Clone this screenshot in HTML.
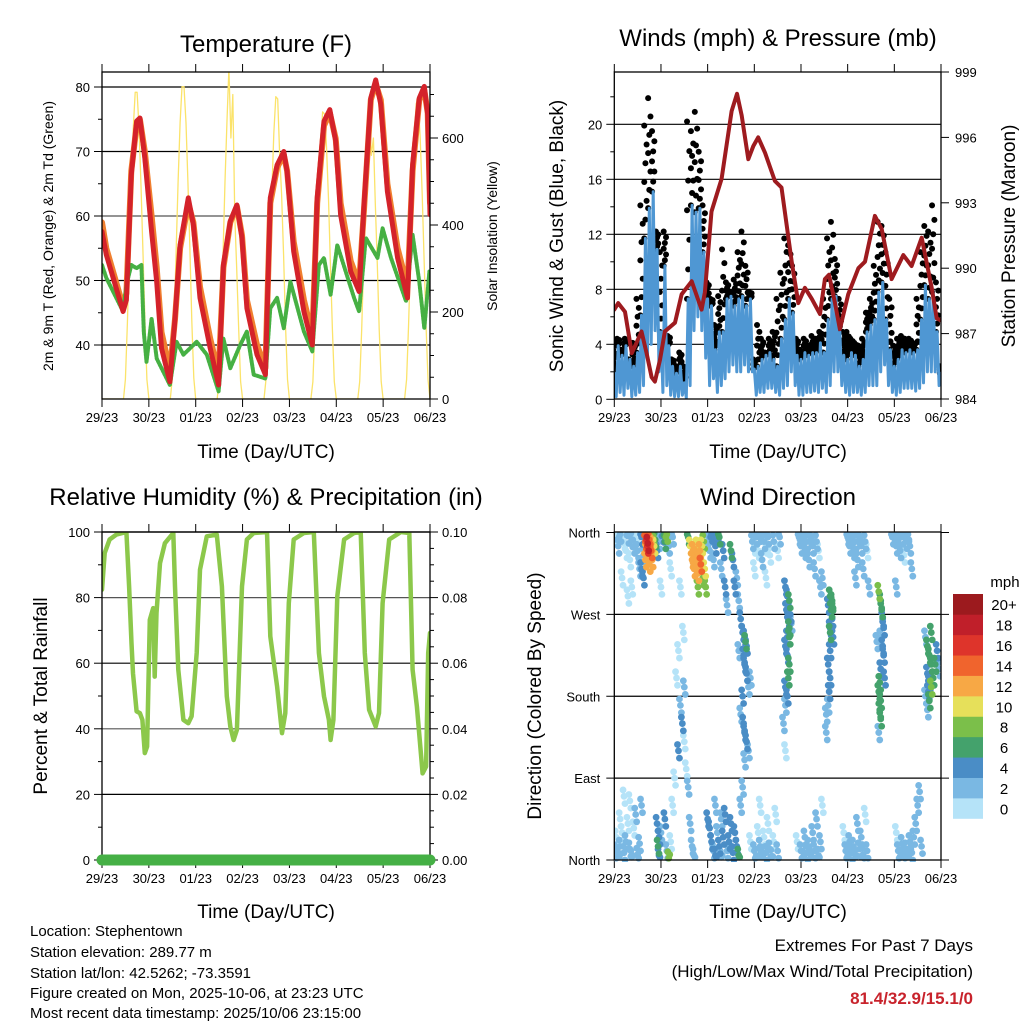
<!DOCTYPE html>
<html><head><meta charset="utf-8">
<style>
html,body{margin:0;padding:0;background:#fff;}
svg{display:block;font-family:"Liberation Sans",sans-serif;}
</style></head>
<body>
<svg id="fig" width="1024" height="1024" viewBox="0 0 1024 1024" xmlns="http://www.w3.org/2000/svg">
<defs>
<clipPath id="c1"><rect x="102" y="72" width="328" height="327"/></clipPath>
<clipPath id="c2"><rect x="614" y="72" width="327" height="327"/></clipPath>
<clipPath id="c3"><rect x="102" y="532" width="328" height="328"/></clipPath>
<clipPath id="c4"><rect x="614" y="532" width="327" height="330"/></clipPath>
</defs>
<g id="root"></g>
<text x="266" y="52" font-size="24" text-anchor="middle">Temperature (F)</text>
<text x="778" y="46" font-size="24" text-anchor="middle">Winds (mph) &amp; Pressure (mb)</text>
<text x="266" y="505" font-size="24" text-anchor="middle">Relative Humidity (%) &amp; Precipitation (in)</text>
<text x="778" y="505" font-size="24" text-anchor="middle">Wind Direction</text>
<text x="266" y="458" font-size="19" text-anchor="middle">Time (Day/UTC)</text>
<text x="778" y="458" font-size="19" text-anchor="middle">Time (Day/UTC)</text>
<text x="266" y="918" font-size="19" text-anchor="middle">Time (Day/UTC)</text>
<text x="778" y="918" font-size="19" text-anchor="middle">Time (Day/UTC)</text>
<text transform="translate(53,236) rotate(-90)" font-size="14" text-anchor="middle">2m &amp; 9m T (Red, Orange) &amp; 2m Td (Green)</text>
<text transform="translate(497,236) rotate(-90)" font-size="14" text-anchor="middle">Solar Insolation (Yellow)</text>
<text transform="translate(563,236) rotate(-90)" font-size="19" text-anchor="middle">Sonic Wind &amp; Gust (Blue, Black)</text>
<text transform="translate(1015,236) rotate(-90)" font-size="19" text-anchor="middle">Station Pressure (Maroon)</text>
<text transform="translate(47,696) rotate(-90)" font-size="19" text-anchor="middle">Percent &amp; Total Rainfall</text>
<text transform="translate(541,696) rotate(-90)" font-size="19" text-anchor="middle">Direction (Colored By Speed)</text>
<g font-size="15">
<text x="30" y="936">Location: Stephentown</text>
<text x="30" y="957">Station elevation: 289.77 m</text>
<text x="30" y="978">Station lat/lon: 42.5262; -73.3591</text>
<text x="30" y="998">Figure created on Mon, 2025-10-06, at 23:23 UTC</text>
<text x="30" y="1018">Most recent data timestamp: 2025/10/06 23:15:00</text>
</g>
<text x="973" y="951" font-size="17" text-anchor="end">Extremes For Past 7 Days</text>
<text x="973" y="977" font-size="17" text-anchor="end">(High/Low/Max Wind/Total Precipitation)</text>
<text x="973" y="1004" font-size="17" font-weight="bold" fill="#c8232c" text-anchor="end">81.4/32.9/15.1/0</text>
</svg>
<script>
const dayLabels=["29/23","30/23","01/23","02/23","03/23","04/23","05/23","06/23"];
const tempTicks=[40,50,60,70,80];
const solarTicks=[0,200,400,600];
const windTicks=[0,4,8,12,16,20];
const pressTicks=[984,987,990,993,996,999];
const rhTicks=[0,20,40,60,80,100];
const rainTicks=["0.00","0.02","0.04","0.06","0.08","0.10"];
const dirLabels=["North","East","South","West","North"];
const speedBins=["0","2","4","6","8","10","12","14","16","18","20+"];
const speedColors=["#b5e3f8","#7ab8e3","#4a8dc6","#44a26c","#7bbf4a","#e6e05a","#f7a845","#f0642d","#de342b","#c01f2a","#9c1a1e"];

const tempT=[0,2.2,10.8,12.5,15,17.7,19.4,21.9,25.4,28,30.5,34.8,37.4,40,44.2,46.8,50.2,55.4,59.7,62.2,65.7,69.1,71.7,74.2,79.4,83.7,86.2,89.7,93.1,94.8,98.2,103.4,107.7,110.2,113.7,116.7,119.7,122.2,127.4,131.7,134.2,137.7,140.2,142.8,146.2,151.4,156.5,159.1,162.5,165.1,166.8,168];
const redV=[57.6,54,45.2,47,66.4,74.7,75.2,69,57.6,49.8,39.5,34.3,44.1,55.5,62.8,58.6,47.3,39.5,33.8,52.4,59.2,61.7,56.6,45.7,38.5,35.4,62.8,67.9,70,66.9,54.5,45.2,40,62.8,74.7,76.5,71.6,60.2,51.4,48.3,61.7,78.3,81.1,77.3,63.8,53.5,47.3,67.9,78.3,80.1,75.7,60.2];
const orangeV=[59,55,46,48,67,74,75,70,60,52,42,36,44,55,62,59,49,41,35.5,52,59,61.5,57,47,40,36.5,62,67.5,69.5,67,56,47,41.5,62,74,76,72,62,53,49.5,61,78,80.5,78,65,55,49,67,78,79.5,76,62];
const dewT=[0,2.2,10.8,12.5,15,17.7,20.2,21.4,22.8,25.4,28,34.8,38.2,41.7,48.5,53.7,59.7,62.2,65.7,70.8,74.2,77.7,83.7,86.2,89.7,93.1,96.5,103.4,107.7,111.1,113.7,117.1,120.5,129.1,131.7,135.1,141.1,143.7,148,155.7,159.1,162.5,165.1,167.7];
const dewV=[52.4,50.4,45.2,49.3,52.4,51.9,52.4,42,37.4,44.1,37.9,33.8,40.5,38.5,40.5,38.5,32.8,41,36.4,40,42.1,35.4,34.8,45.7,47.3,42.6,49.8,42.1,39,52.4,53.5,47.8,55.5,47.3,45.2,56.6,53.5,58.1,53.5,46.8,57.1,49.8,42.6,51.4];
const solarStart=[11,35,59,83,107,131,155];
const solarDays=[
[0,45,175,335,490,620,705,705,620,490,335,175,45,0],
[0,48,180,345,500,635,718,718,635,500,345,180,48,0],
[0,45,170,330,500,640,760,600,700,420,300,160,40,0],
[0,45,170,330,480,610,695,690,560,470,330,170,45,0],
[0,40,160,310,460,580,660,655,580,460,310,160,40,0],
[0,40,160,310,450,570,650,560,600,450,310,160,40,0],
[0,45,165,320,470,600,680,680,600,470,320,165,45,0]];

const windT=[0,2,4,6,8,10,12,14,16,18,20,22,24,26,28,30,32,34,36,38,40,42,44,46,48,50,52,54,56,58,60,62,64,66,68,70,72,74,76,78,80,82,84,86,88,90,92,94,96,98,100,102,104,106,108,110,112,114,116,118,120,122,124,126,128,130,132,134,136,138,140,142,144,146,148,150,152,154,156,158,160,162,164,166,168];
const windHi=[1.9,3.9,3.2,3.9,2.9,2.4,3.4,6.1,11.7,13.9,15.1,10.9,4.9,9.7,3.9,2.4,1.9,2.4,1.2,7.3,14.1,13.6,13.9,10.7,7.3,6.8,3.6,4.9,4.9,7.3,7.5,6.8,7.3,7.5,6.8,7.3,2.2,2.4,2.9,3.2,3.4,2.9,2.4,4.4,5.8,7.3,6.3,3.2,2.9,3.4,3.2,3.4,3.4,4.1,3.4,5.8,7.3,7.5,4.9,3.2,2.9,3.4,3.2,2.4,2.9,4.9,5.4,5.8,7.8,8.5,5.8,3.6,2.4,2.9,3.6,3.4,3.6,3.4,3.6,5.8,8.3,7.3,7.8,4.9,1.9];
const windLo=[0.2,0.5,0.3,0.8,0.2,0.3,0.5,1,3,4,5,2,0.5,1,0.3,0.2,0.2,0.3,0.1,1,5,6,5,3,1,1.5,0.5,1,1.5,2,2.5,2,2,2.5,2,2,0.3,0.5,0.5,0.8,0.8,0.5,0.3,0.8,1,2,1,0.3,0.3,0.5,0.5,0.6,0.5,0.8,0.5,1,2,2,1,0.5,0.3,0.5,0.5,0.3,0.5,1,1,1,2,2.5,1,0.5,0.3,0.5,0.8,0.8,0.8,0.6,0.8,1.2,2,2,2,1,0.2];
const gustV=[3.6,4.4,3.6,4.4,2.4,4.1,7.3,14.1,19.9,21.9,19.5,12.2,10.7,12.2,4.6,2.9,2.4,3.4,2.4,20.2,19.5,20.9,18,14.1,8.5,7.3,5.4,7.5,10.9,8.5,7.8,8.7,10.7,12.2,9.7,7.8,2.9,5.4,4.4,3.4,4.4,4.9,7.3,9.2,11.7,11.2,9.7,4.4,3.6,4.4,3.9,4.6,4.4,4.9,7.3,11.7,12.9,10.2,7.3,4.9,4.9,4.4,4.1,3.9,4.4,6.3,7.3,9.7,12.9,12.6,10.7,7.3,3.9,4.4,4.6,4.4,4.4,4.1,7.3,10.7,12.6,12.2,14.1,8.5,2.4];
const pressT=[0,2,5.5,9,11.5,14,16.6,19.2,20.9,23.5,26,31.2,34.6,39.8,44.9,46.6,50,55.2,60.3,63.1,65.5,68.9,71.5,74,77.5,82.6,86,91.2,94.6,98,101.5,105.8,108.3,110.4,113.5,116,120.3,125.5,128.9,134,137.5,142.6,148.6,152.9,158.1,163.2,165.8,168];
const pressV=[988.1,988.4,988,986.1,986.6,987.1,986.1,985,984.8,985.8,987.1,987.5,988.8,989.4,988.1,988.9,992.6,994.1,997.2,998,997,995,995.6,996,995.3,994,993.7,990.3,988.4,989.1,988.6,987.9,989.5,989.7,988.4,987.2,988.8,990,990.3,992.4,991.8,989.5,990.6,990.1,991.4,989.1,987.7,987.6];

const rhT=[0,1.4,3.9,7.4,12.5,13.9,15.1,15.9,17.7,19.4,20.7,21.9,23.1,24.5,26.2,27,27.9,29.7,32.2,36.5,37.4,39.1,41.7,44.2,45.9,48.5,50.2,53.7,58.8,61.4,63.9,65.7,67.4,69.1,71.7,74.2,77.7,84.5,86.2,89.7,92.2,93.9,95.7,98.2,103.4,108.5,111.1,113.7,116.2,117.1,118.5,120.5,124,129.1,132.5,134.6,136.8,140.2,141.9,143.7,147.1,153.1,157.4,159.1,161.3,164.2,166,167.1,168];
const rhV=[82.4,93.6,97.7,99.2,100,83.4,66.1,56.9,45.3,44.8,42.7,32.6,34.6,73.2,76.8,55.9,75.3,90.5,96.6,99.7,83.4,58,42.7,41.7,43.8,63.1,88.5,98.7,99.2,83.4,49.9,40.7,36.6,39.7,83.4,97.7,99.7,100,68.2,52.9,38.7,44.8,78.3,97.7,99.7,100,63.1,49.9,42.7,36.6,42.7,80.4,97.7,99.7,100,63.1,45.8,40.7,44.8,78.3,97.7,100,99.7,58,46.8,26.4,28.5,63.1,69.2];
const rainT=[0,168];
const rainV=[0,0];

const dirObs=[[1,355,1],[2,345,3],[3,358,2],[5,350,1],[6,340,1],[7,356,2],[8,330,1],[9,352,3],[10,345,2],[11,359,1],[12,340,3],[13,320,2],[14,355,4],[15,335,3],[4,310,1],[9,300,1],[7,290,1],[14,320,4],[15,310,4],
[16,350,14],[16.5,340,12],[17,345,16],[17.5,335,13],[18,352,15],[18.5,342,12],[19,348,13],[19.5,330,12],[16,330,12],[17,355,12],[18,325,12],[19,340,14],[17.2,348,18],[20,356,8],[20.5,345,10],[21,352,7],[22,340,5],[23,350,3],[24,300,1],[25,357,4],[26,350,7],[27,358,8],[28,345,2],[29,320,1],[30,355,2],
[38,355,6],[39,345,10],[40,330,12],[40.5,340,13],[41,320,12],[41.5,335,12],[42,325,12],[42.5,345,11],[43,315,12],[43.5,330,13],[44,340,12],[44.5,325,14],[45,345,11],[45.5,310,9],[46,350,8],[46.5,320,10],[47,300,8],[43,300,9],[48,350,3],[49,340,2],[50,358,4],[51,330,2],[52,345,4],[53,359,5],[54,355,7],[55,320,2],[56,340,5],[57,300,4],[58,280,2],
[60,340,7],[61,330,4],[62,300,4],[63,310,3],[64,285,3],[65,265,4],[66,250,4],[67,245,5],[67.5,240,6],[68,235,4],[66.5,225,4],[67,215,5],[68,205,4],[69,190,3],[66,180,4],[65,160,3],[66.5,150,4],[67,140,5],[68,130,4],[69,120,3],[67,110,2],[64,230,2],[70,200,3],
[71,350,2],[72,345,1],[73,355,3],[74,340,1],[75,358,2],[76,330,2],[77,350,3],[78,345,1],[79,355,2],[80,335,1],[82,350,2],[84,340,1],[85,355,2],[72,320,1],[78,310,1],
[88,300,4],[89,290,5],[90,285,6],[88.5,275,4],[89.5,265,5],[90,255,6],[89,245,5],[88,235,4],[89,225,4],[90,215,6],[89.5,200,7],[88,190,5],[89,180,4],[88,170,3],[87,150,2],[88,120,1],[90,245,7],[90.5,270,5],[91,260,3],
[95,355,2],[96,345,3],[97,358,2],[98,340,2],[99,350,3],[100,330,2],[101,355,2],[102,345,3],[103,320,2],[104,350,2],[105,340,1],[106,300,3],[107,310,2],
[110,280,5],[111,290,6],[112,285,7],[111.5,275,6],[112,265,5],[111,255,4],[112.5,245,5],[111,230,4],[110,215,4],[111,200,4],[110.5,185,4],[110,170,3],[109,160,2],[111,250,7],[112,282,7],[109,140,2],
[120,355,2],[121,345,3],[122,358,2],[123,340,2],[124,350,3],[125,330,2],[126,355,2],[127,345,2],[128,320,3],[129,350,2],[130,340,1],[131,300,2],[124,310,2],
[136,295,8],[137,285,7],[137.5,275,6],[138,265,4],[138.5,255,4],[137,245,3],[138,235,4],[138.5,225,4],[137,210,4],[136.5,195,6],[136,185,7],[137,175,6],[136.5,165,6],[137,155,7],[136,140,3],[139,200,4],[135,240,2],
[143,355,2],[144,358,3],[145,345,2],[146,352,2],[147,340,3],[148,355,2],[149,335,1],[150,350,2],[151,358,2],[152,345,3],[153,320,2],[145,300,2],
[160,245,3],[161,235,6],[162,225,7],[163,215,6],[161,205,5],[162,195,4],[161.5,185,4],[160,180,3],[162,175,6],[163,190,8],[164,200,7],[165,215,6],[166,230,4],[167,210,3],[161,165,2],[163,250,6],
[0.5,10,2],[1,25,1],[2,5,3],[3,15,2],[4,30,1],[5,8,3],[6,20,2],[7,40,1],[8,12,3],[9,3,2],[10,35,1],[11,50,2],[12,6,3],[13,18,2],[14,60,2],[3,45,1],[5,70,1],[8,65,1],
[22,40,4],[23,25,4],[22.5,15,6],[23,5,4],[24,30,2],[26,45,4],[27,10,3],[28,2,8],[29,20,1],[30,60,1],[31,90,1],
[32,200,1],[33,230,1],[34,170,2],[35,150,4],[35.5,250,1],[36,130,1],[37,100,1],[34,300,1],[33,120,4],[36,190,2],[38,80,2],[39,40,2],[40,15,2],[41,5,3],
[48,45,4],[49,35,4],[50,20,4],[51,10,3],[52,5,4],[53,30,3],[54,15,4],[55,3,3],[56,25,4],[57,50,4],[58,10,3],[59,20,5],[60,40,4],[61,8,4],[62,30,5],[63,15,4],[64,5,6],[65,60,3],[66,80,3],[52,60,3],[55,45,2],
[70,20,1],[72,10,2],[73,5,2],[74,30,1],[75,15,2],[76,3,2],[77,25,1],[78,8,2],[79,40,1],[80,12,2],[81,4,2],[82,20,1],[83,50,1],[84,10,2],[75,60,1],
[94,20,1],[96,10,2],[97,3,2],[98,25,3],[99,8,2],[100,15,3],[101,4,2],[102,30,2],[103,10,3],[104,45,3],[105,5,2],[106,20,2],[107,60,1],
[118,30,1],[119,10,2],[120,5,2],[121,20,3],[122,8,2],[123,15,3],[124,3,2],[125,40,2],[126,12,3],[127,25,2],[128,6,2],[129,50,1],[130,10,2],
[145,30,1],[146,10,2],[147,4,2],[148,18,2],[149,6,2],[150,12,2],[151,3,2],[152,20,3],[153,8,2],[154,25,2],[155,40,3],[156,60,3],[157,75,2],[158,15,2]];

const NS="http://www.w3.org/2000/svg";
const root=document.getElementById('root');
function mk(tag,attrs,parent){const e=document.createElementNS(NS,tag);for(const k in attrs)e.setAttribute(k,attrs[k]);(parent||root).appendChild(e);return e;}
const P1={l:102,r:430,t:72,b:399}, P2={l:614.3,r:941,t:72,b:399}, P3={l:102,r:430,t:532,b:860}, P4={l:614.3,r:941,t:532,b:860};
const xAt=(P,t)=>P.l+t/168*(P.r-P.l);
const yTemp=v=>345-(v-40)*6.45;
const ySolar=v=>399-v*0.435;
const yWind=v=>399.3-v*13.75;
const yPress=v=>399-(v-984)*21.8;
const yRH=v=>860-v*3.28;
const yRain=v=>860-v*3280;
const yDir=d=>860-d/360*327.5;

function frame(P){
  for(let i=0;i<dayLabels.length;i++){
    const x=xAt(P,i*24);
    mk('line',{x1:x,x2:x,y1:P.b,y2:P.b+8,stroke:'#000','stroke-width':1});
    mk('line',{x1:x,x2:x,y1:P.t,y2:P.t-8,stroke:'#000','stroke-width':1});
    const tx=mk('text',{x:x,y:P.b+23,'font-size':13,'text-anchor':'middle'});
    tx.textContent=dayLabels[i];
    
    
  }
}
function border(P,name){
  const r=mk('rect',{x:P.l,y:P.t,width:P.r-P.l,height:P.b-P.t,fill:'none',stroke:'#000','stroke-width':1.3});
  
  
}
function hgrid(P,y,color){
  mk('line',{x1:P.l,x2:P.r,y1:y,y2:y,stroke:color||'#000','stroke-width':1.2});
}
function yLabel(x,y,txt,anchor,size){
  const t=mk('text',{x:x,y:y+5,'font-size':size||13,'text-anchor':anchor});
  t.textContent=txt;
  
  
}
function poly(pts,attrs,name,clip){
  const a={points:pts.map(p=>p[0].toFixed(1)+','+p[1].toFixed(1)).join(' '),fill:'none','stroke-linejoin':'round','stroke-linecap':'round'};
  if(clip)a['clip-path']='url(#'+clip+')';
  const p=mk('polyline',Object.assign(a,attrs));
  
  
  return p;
}

/* ---------- Panel 1 ---------- */
frame(P1);
tempTicks.forEach(v=>{const y=yTemp(v);hgrid(P1,y,(v==60)?'#555':'#000');mk('line',{x1:P1.l-8,x2:P1.l,y1:y,y2:y,stroke:'#000'});yLabel(P1.l-12,y,String(v),'end',13);});
[45,55,65,75].forEach(v=>mk('line',{x1:P1.l-4,x2:P1.l,y1:yTemp(v),y2:yTemp(v),stroke:'#000'}));
solarTicks.forEach(v=>{const y=ySolar(v);mk('line',{x1:P1.r,x2:P1.r+8,y1:y,y2:y,stroke:'#000'});yLabel(P1.r+12,y,String(v),'start',13);});
[50,100,150,250,300,350,450,500,550,650,700].forEach(v=>mk('line',{x1:P1.r,x2:P1.r+4,y1:ySolar(v),y2:ySolar(v),stroke:'#000'}));
const sp=[[xAt(P1,0),ySolar(0)]];
solarDays.forEach((d,i)=>d.forEach((v,j)=>sp.push([xAt(P1,solarStart[i]+j),ySolar(v)])));
sp.push([xAt(P1,168),ySolar(0)]);
poly(sp,{stroke:'#fbe36a','stroke-width':1.3},'solar-insolation-line','c1');
poly(tempT.map((t,i)=>[xAt(P1,t),yTemp(orangeV[i])]),{stroke:'#f07f2f','stroke-width':6},'temp-9m-line','c1');
poly(dewT.map((t,i)=>[xAt(P1,t),yTemp(dewV[i])]),{stroke:'#46b043','stroke-width':4,'stroke-dasharray':'2 1.5'},'dewpoint-line','c1');
poly(tempT.map((t,i)=>[xAt(P1,t),yTemp(redV[i])]),{stroke:'#d4222a','stroke-width':5},'temp-2m-line','c1');
border(P1,'temperature-plot-frame');

/* ---------- Panel 2 ---------- */
frame(P2);
windTicks.forEach(v=>{const y=yWind(v);if(v>0)hgrid(P2,y);mk('line',{x1:P2.l-8,x2:P2.l,y1:y,y2:y,stroke:'#000'});yLabel(P2.l-12,y,String(v),'end',13);});
[2,6,10,14,18,22].forEach(v=>mk('line',{x1:P2.l-4,x2:P2.l,y1:yWind(v),y2:yWind(v),stroke:'#000'}));
pressTicks.forEach(v=>{const y=yPress(v);mk('line',{x1:P2.r,x2:P2.r+8,y1:y,y2:y,stroke:'#000'});yLabel(P2.r+14,y,String(v),'start',13);});
const gG=mk('g',{'clip-path':'url(#c2)'});


windT.forEach((t,i)=>{
  const hi=windHi[i],g=gustV[i];
  for(let k=0;k<=6;k++){
    const v=hi+(g-hi)*k/6;
    mk('circle',{cx:xAt(P2,t+((k%3)-1)*0.6),cy:yWind(v),r:3,fill:'#000'},gG);
  }
});
const bp=[];
windT.forEach((t,i)=>{bp.push([xAt(P2,t),yWind(windHi[i])]);bp.push([xAt(P2,t+1),yWind(windLo[i])]);});
poly(bp,{stroke:'#4f97d3','stroke-width':3},'sonic-wind-line','c2');
poly(pressT.map((t,i)=>[xAt(P2,t),yPress(pressV[i])]),{stroke:'#9e1b1f','stroke-width':4},'pressure-line','c2');
border(P2,'winds-plot-frame');

/* ---------- Panel 3 ---------- */
frame(P3);
rhTicks.forEach((v,i)=>{const y=yRH(v);hgrid(P3,y,(v==40||v==80)?'#555':'#000');mk('line',{x1:P3.l-8,x2:P3.l,y1:y,y2:y,stroke:'#000'});yLabel(P3.l-12,y,String(v),'end',13);
  mk('line',{x1:P3.r,x2:P3.r+8,y1:y,y2:y,stroke:'#000'});yLabel(P3.r+12,y,rainTicks[i],'start',13);});
[10,30,50,70,90].forEach(v=>mk('line',{x1:P3.l-4,x2:P3.l,y1:yRH(v),y2:yRH(v),stroke:'#000'}));
for(let v=5;v<100;v+=5){if(v%20)mk('line',{x1:P3.r,x2:P3.r+4,y1:yRH(v),y2:yRH(v),stroke:'#000'});}
poly(rhT.map((t,i)=>[xAt(P3,t),yRH(rhV[i])]),{stroke:'#8cc84b','stroke-width':4.5},'humidity-line','c3');
border(P3,'humidity-plot-frame');
poly(rainT.map((t,i)=>[xAt(P3,t),yRain(rainV[i])]),{stroke:'#45b045','stroke-width':11},'precipitation-line',null);

/* ---------- Panel 4 ---------- */
frame(P4);
[0,90,180,270,360].forEach((d,i)=>{const y=yDir(d);if(d>0&&d<360)hgrid(P4,y);mk('line',{x1:P4.l-8,x2:P4.l,y1:y,y2:y,stroke:'#000'});mk('line',{x1:P4.r,x2:P4.r+8,y1:y,y2:y,stroke:'#000'});yLabel(P4.l-14,y,dirLabels[i],'end',13);});
const gD=mk('g',{'clip-path':'url(#c4)'});


const jit=[[0,0],[0.5,-8],[-0.5,7]];
[0,1,2,3,4,5,6,7,8,9,10].forEach(b=>{
  dirObs.forEach(o=>{const bin=Math.min(10,Math.floor(o[2]/2));if(bin!==b)return;
    jit.forEach(j=>{
      let d=o[1]+j[1]; if(d>360)d=360-(d-360); if(d<0)d=-d;
      mk('circle',{cx:xAt(P4,o[0]+j[0]),cy:yDir(d),r:3.4,fill:speedColors[bin]},gD);
    });
  });
});
border(P4,'direction-plot-frame');
const cb=mk('g',{});


const cbTop=594,cbBot=818.5,bh=(cbBot-cbTop)/speedBins.length;
speedBins.forEach((lab,i)=>{
  const y=cbBot-(i+1)*bh;
  mk('rect',{x:953,y:y,width:30,height:bh+0.3,fill:speedColors[i]},cb);
  const t=mk('text',{x:1004,y:y+bh/2+6,'font-size':15,'text-anchor':'middle'},cb);
  t.textContent=lab;
  
  
});
const mph=mk('text',{x:1005,y:587,'font-size':15,'text-anchor':'middle'},cb);
mph.textContent='mph';


</script>
</body></html>
